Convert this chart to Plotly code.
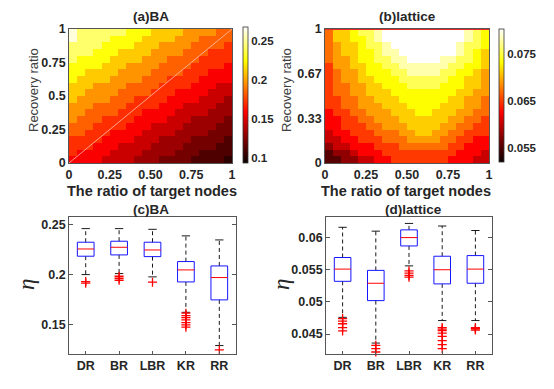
import numpy as np
import plotly.graph_objects as go

# ---------------- data ----------------
# Heatmap (a) BA: level codes per row, TOP row first (hex digits: a=10, b=11, c=12)
ba_rows = [
    "cbbbbbbaaa9999888877",
    "cbbbbaaaa99998887777",
    "bbbbaaaa999888877776",
    "bbbaaa99998888777666",
    "baaaa999988877776666",
    "aaaa9998888777766665",
    "aa999988887777666555",
    "a9999888877766665555",
    "99988887777666655544",
    "99888877776665555444",
    "98888777666655554443",
    "88877776666555444433",
    "88777766655554444333",
    "87776666555544433332",
    "77766665554444333322",
    "77666555544443333222",
    "66665555444333322221",
    "66655544443333222211",
    "65555444433332221111",
    "55554444333222211110",
]
ba_levels = [0.103, 0.112, 0.122, 0.133, 0.145, 0.158, 0.171, 0.184,
             0.197, 0.211, 0.226, 0.243, 0.262]

# Heatmap (b) lattice
lat_rows = [
    "577899abbbbbbbbbba98",
    "577889abbbbbbbbbba98",
    "5677899abbbbbbbba998",
    "5677889aabbbbbbba987",
    "56678899aabbbbaa9987",
    "466778899aaaaaa99887",
    "4566788899aaaa998876",
    "45667788899999988776",
    "45566778889999888776",
    "45566777888888887766",
    "44556677788888877665",
    "44556667778888777665",
    "34455666777887776655",
    "33445566677777766554",
    "33444556667777665544",
    "23344455566776655444",
    "22334445556666554433",
    "12233344455555544333",
    "01123334444444443332",
    "00112233444444433322",
]
lat_levels = [0.0553, 0.0578, 0.0602, 0.0626, 0.0650, 0.0672, 0.0692,
              0.0712, 0.0732, 0.0756, 0.0780, 0.0803]

ratio_ticks = [0, 0.25, 0.5, 0.75, 1]
ratio_text = ["0", "0.25", "0.50", "0.75", "1"]
ba_rec_ticks = [0, 0.25, 0.5, 0.75, 1]
ba_rec_text = ["0", "0.25", "0.5", "0.75", "1"]
lat_rec_ticks = [0, 0.33, 0.67, 1]
lat_rec_text = ["0", "0.33", "0.67", "1"]
ba_cbar_ticks = [0.1, 0.15, 0.2, 0.25]
ba_cbar_text = ["0.1", "0.15", "0.2", "0.25"]
lat_cbar_ticks = [0.055, 0.065, 0.075]
lat_cbar_text = ["0.055", "0.065", "0.075"]
ba_crange = [0.094, 0.268]
lat_crange = [0.052, 0.0803]

methods = ["DR", "BR", "LBR", "KR", "RR"]

# (c) BA box statistics
c_upper = [0.2463, 0.2463, 0.2456, 0.2390, 0.2349]
c_q3 = [0.2326, 0.2336, 0.2326, 0.2131, 0.2087]
c_med = [0.2258, 0.2275, 0.2248, 0.2047, 0.1970]
c_q1 = [0.2185, 0.2198, 0.2181, 0.1926, 0.1745]
c_lower = [0.2000, 0.2010, 0.1977, 0.1620, 0.1285]
c_out = [
    [0.1930, 0.1913],
    [0.1983, 0.1963, 0.1943],
    [0.1923],
    [0.1611, 0.1587, 0.1567, 0.1544, 0.1517, 0.1493, 0.1470],
    [0.1242],
]
c_yticks = [0.15, 0.2, 0.25]
c_ytext = ["0.15", "0.2", "0.25"]
c_yrange = [0.120, 0.258]

# (d) lattice box statistics
d_upper = [0.0616, 0.0610, 0.0622, 0.0618, 0.0611]
d_q3 = [0.0569, 0.0549, 0.0612, 0.0571, 0.0572]
d_med = [0.0551, 0.0529, 0.0600, 0.0550, 0.0551]
d_q1 = [0.0532, 0.0502, 0.0587, 0.0528, 0.0529]
d_lower = [0.0476, 0.0436, 0.0556, 0.0471, 0.0471]
d_out = [
    [0.0474, 0.0470, 0.0466, 0.0460, 0.0455],
    [0.04325, 0.04273, 0.04221],
    [0.05483, 0.05447, 0.05411, 0.05385],
    [0.0460, 0.04578, 0.04552, 0.04516, 0.04464, 0.04397, 0.04335, 0.04273],
    [0.0460, 0.04583, 0.04563],
]
d_yticks = [0.045, 0.05, 0.055, 0.06]
d_ytext = ["0.045", "0.05", "0.055", "0.06"]
d_yrange = [0.0419, 0.0632]

# ---------------- style ----------------
W, H = 554, 389
FONT = "Liberation Sans"
TXT = "#262626"
hot = [[0, "rgb(11,0,0)"], [0.375, "rgb(255,0,0)"],
       [0.75, "rgb(255,255,0)"], [1, "rgb(255,255,255)"]]


def px_x(v):
    return v / W


def px_y(v):
    return 1 - v / H


def decode(rows, levels):
    return [[levels[int(ch, 16)] for ch in row] for row in reversed(rows)]


fig = go.Figure()

n_a = len(ba_rows[0])
edges_a = np.linspace(ratio_ticks[0], ratio_ticks[-1], n_a + 1)
edges_ay = np.linspace(ba_rec_ticks[0], ba_rec_ticks[-1], len(ba_rows) + 1)
fig.add_trace(go.Heatmap(z=decode(ba_rows, ba_levels), x=edges_a, y=edges_ay,
                         coloraxis="coloraxis", xaxis="x", yaxis="y",
                         hoverinfo="skip"))
# faint diagonal
diag = [ratio_ticks[0], ratio_ticks[-1]]
fig.add_trace(go.Scatter(x=diag, y=diag, mode="lines",
                         line=dict(color="rgba(255,200,190,0.75)", width=1),
                         xaxis="x", yaxis="y", showlegend=False, hoverinfo="skip"))

n_b = len(lat_rows[0])
edges_b = np.linspace(ratio_ticks[0], ratio_ticks[-1], n_b + 1)
edges_by = np.linspace(lat_rec_ticks[0], lat_rec_ticks[-1], len(lat_rows) + 1)
fig.add_trace(go.Heatmap(z=decode(lat_rows, lat_levels), x=edges_b, y=edges_by,
                         coloraxis="coloraxis2", xaxis="x2", yaxis="y2",
                         hoverinfo="skip"))
fig.add_trace(go.Scatter(x=diag, y=[lat_rec_ticks[-1]] * 2, mode="lines",
                         line=dict(color="rgb(230,40,40)", width=2),
                         xaxis="x2", yaxis="y2", showlegend=False, hoverinfo="skip"))


def add_boxes(q1, med, q3, lo, hi, outs, xa, ya):
    pos = np.arange(1, len(methods) + 1)
    w, cw = 0.25, 0.125
    wx, wy, cx, cy, bx, by, mx, my, ox, oy = [], [], [], [], [], [], [], [], [], []
    for p, a, m, b, l, h, o in zip(pos, q1, med, q3, lo, hi, outs):
        wx += [p, p, None, p, p, None]
        wy += [b, h, None, a, l, None]
        cx += [p - cw, p + cw, None, p - cw, p + cw, None]
        cy += [h, h, None, l, l, None]
        bx += [p - w, p + w, p + w, p - w, p - w, None]
        by += [a, a, b, b, a, None]
        mx += [p - w, p + w, None]
        my += [m, m, None]
        ox += [p] * len(o)
        oy += list(o)
    common = dict(xaxis=xa, yaxis=ya, showlegend=False, hoverinfo="skip")
    fig.add_trace(go.Scatter(x=wx, y=wy, mode="lines",
                             line=dict(color="black", width=0.9, dash="4px,3px"), **common))
    fig.add_trace(go.Scatter(x=cx, y=cy, mode="lines",
                             line=dict(color="black", width=0.9), **common))
    fig.add_trace(go.Scatter(x=bx, y=by, mode="lines",
                             line=dict(color="rgb(20,20,255)", width=1), **common))
    fig.add_trace(go.Scatter(x=mx, y=my, mode="lines",
                             line=dict(color="rgb(255,0,0)", width=1), **common))
    fig.add_trace(go.Scatter(x=ox, y=oy, mode="markers",
                             marker=dict(symbol="cross-thin-open", size=6.5, color="rgb(255,0,0)",
                                         line=dict(color="rgb(255,0,0)", width=1.3)),
                             cliponaxis=False, **common))


add_boxes(c_q1, c_med, c_q3, c_lower, c_upper, c_out, "x3", "y3")
add_boxes(d_q1, d_med, d_q3, d_lower, d_upper, d_out, "x4", "y4")

tickfont = dict(family=FONT, size=12.5, color=TXT, weight="bold")
cbfont = dict(family=FONT, size=11.5, color=TXT, weight="bold")


def heat_axis(dom, anchor, vals, text):
    return dict(domain=dom, anchor=anchor, range=[0, 1], tickvals=vals, ticktext=text,
                showline=True, mirror=True, linecolor="#555", linewidth=0.6,
                ticks="", showgrid=False, zeroline=False, tickfont=tickfont,
                automargin=False)


def box_x(dom, anchor):
    return dict(domain=dom, anchor=anchor, range=[0.5, 5.5],
                tickvals=list(range(1, len(methods) + 1)), ticktext=methods,
                showline=True, mirror=True, linecolor="#555", linewidth=0.8,
                ticks="inside", ticklen=3, tickcolor="#555",
                showgrid=False, zeroline=False, tickfont=tickfont, automargin=False)


def box_y(dom, anchor, rng, vals, text):
    return dict(domain=dom, anchor=anchor, range=rng, tickvals=vals, ticktext=text,
                showline=True, mirror="ticks", linecolor="#555", linewidth=0.8,
                ticks="inside", ticklen=4, tickcolor="#555",
                showgrid=False, zeroline=False, tickfont=tickfont, automargin=False)


top_dom = [px_y(163), px_y(29)]
bot_dom = [px_y(354), px_y(217)]

fig.update_layout(
    width=W, height=H, margin=dict(l=0, r=0, t=0, b=0, autoexpand=False),
    paper_bgcolor="white", plot_bgcolor="white", showlegend=False,
    font=dict(family=FONT, color=TXT),
    xaxis=heat_axis([px_x(69), px_x(232)], "y", ratio_ticks, ratio_text),
    yaxis=heat_axis(top_dom, "x", ba_rec_ticks, ba_rec_text),
    xaxis2=heat_axis([px_x(325), px_x(489)], "y2", ratio_ticks, ratio_text),
    yaxis2=heat_axis(top_dom, "x2", lat_rec_ticks, lat_rec_text),
    xaxis3=box_x([px_x(69), px_x(236)], "y3"),
    yaxis3=box_y(bot_dom, "x3", c_yrange, c_yticks, c_ytext),
    xaxis4=box_x([px_x(326), px_x(492)], "y4"),
    yaxis4=box_y(bot_dom, "x4", d_yrange, d_yticks, d_ytext),
    coloraxis=dict(colorscale=hot, cmin=ba_crange[0], cmax=ba_crange[1],
                   colorbar=dict(x=px_x(243), xanchor="left", xpad=0,
                                 y=px_y(163), yanchor="bottom", ypad=0,
                                 len=(163 - 27) / H, lenmode="fraction",
                                 thickness=5, thicknessmode="pixels",
                                 outlinewidth=0.8, outlinecolor="#333",
                                 tickvals=ba_cbar_ticks, ticktext=ba_cbar_text,
                                 ticks="", tickfont=cbfont)),
    coloraxis2=dict(colorscale=hot, cmin=lat_crange[0], cmax=lat_crange[1],
                    colorbar=dict(x=px_x(499), xanchor="left", xpad=0,
                                  y=px_y(162), yanchor="bottom", ypad=0,
                                  len=(162 - 29) / H, lenmode="fraction",
                                  thickness=5, thicknessmode="pixels",
                                  outlinewidth=0.8, outlinecolor="#333",
                                  tickvals=lat_cbar_ticks, ticktext=lat_cbar_text,
                                  ticks="", tickfont=cbfont)),
)

bold = dict(family=FONT, color=TXT, weight="bold")
ann = [
    dict(text="(a)BA", x=px_x(151), y=px_y(17), font=dict(size=13.5, **bold)),
    dict(text="(b)lattice", x=px_x(407), y=px_y(17), font=dict(size=13.5, **bold)),
    dict(text="The ratio of target nodes", x=px_x(152), y=px_y(191), font=dict(size=14.5, **bold)),
    dict(text="The ratio of target nodes", x=px_x(406), y=px_y(191), font=dict(size=14.5, **bold)),
    dict(text="Recovery ratio", x=px_x(33), y=px_y(90), textangle=-90,
         font=dict(size=13, family=FONT, color="#404040")),
    dict(text="Recovery ratio", x=px_x(286), y=px_y(90), textangle=-90,
         font=dict(size=13, family=FONT, color="#404040")),
    dict(text="(c)BA", x=px_x(151), y=px_y(209), font=dict(size=13.5, **bold)),
    dict(text="(d)lattice", x=px_x(413), y=px_y(209), font=dict(size=13.5, **bold)),
    dict(text="η", x=px_x(26), y=px_y(285), textangle=-90,
         font=dict(size=23, family="Liberation Serif", color=TXT, style="italic")),
    dict(text="η", x=px_x(281), y=px_y(285), textangle=-90,
         font=dict(size=23, family="Liberation Serif", color=TXT, style="italic")),
]
for a in ann:
    a.update(xref="paper", yref="paper", showarrow=False, xanchor="center", yanchor="middle")
fig.update_layout(annotations=ann)

fig.write_html("out.html", config={"displayModeBar": False},
               post_script="document.body.style.margin='0';document.body.style.overflow='hidden';")
